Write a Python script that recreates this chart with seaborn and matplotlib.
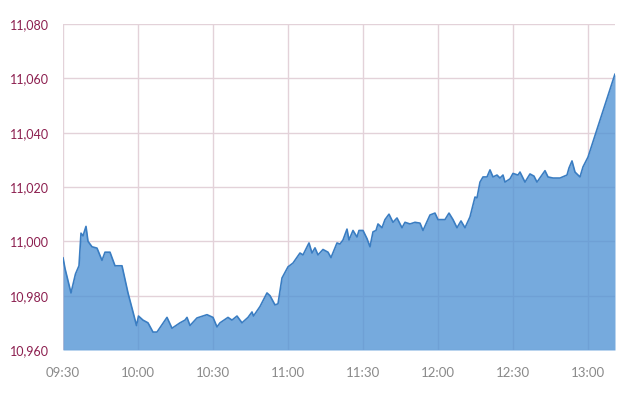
import matplotlib
matplotlib.use("Agg")
import matplotlib.pyplot as plt
import seaborn as sns
import pandas as pd

# minutes after 09:30 open
minutes = [0, 0.8, 3.2, 5.0, 6.4, 7.2, 8.0, 9.2, 10.0, 11.6, 13.6, 15.6, 16.8, 18.8,
           20.8, 23.6, 26.0, 28.0, 29.4, 30.2, 32.0, 34.0, 36.0, 37.6, 41.6, 43.6,
           46.8, 48.8, 49.6, 50.8, 53.6, 57.6, 60.0, 61.6, 62.8, 66.0, 67.6, 69.6,
           71.6, 74.0, 75.6, 76.2, 78.8, 81.6, 82.8, 84.8, 86.0, 87.6, 90.0, 92.0,
           94.8, 96.0, 98.4, 99.6, 100.8, 102.0, 104.0, 106.0, 107.2, 109.6, 110.8,
           112.0, 113.6, 114.4, 116.0, 117.6, 118.4, 120.0, 121.6, 122.8, 124.0,
           125.2, 126.0, 127.6, 128.8, 130.4, 132.0, 133.6, 135.6, 136.8, 138.8,
           140.8, 142.8, 144.0, 146.8, 148.8, 150.0, 152.8, 154.4, 156.0, 157.6,
           159.2, 160.8, 162.8, 164.8, 165.6, 166.8, 168.0, 169.6, 170.8, 172.0,
           173.6, 174.8, 176.0, 176.8, 178.8, 180.0, 182.0, 182.8, 184.8, 186.8,
           188.4, 189.6, 192.8, 194.0, 196.0, 198.8, 201.6, 202.4, 203.6, 204.8,
           206.8, 208.0, 210.0, 220.8]
index_values = [10994, 10990, 10981, 10988, 10991, 11003, 11002, 11005.5, 11000, 10998,
                10997.5, 10993, 10996, 10996, 10991, 10991, 10981, 10974, 10969,
                10972.5, 10971, 10970, 10966.6, 10966.6, 10972, 10968, 10970, 10971,
                10972, 10969, 10971.8, 10973, 10972, 10968.5, 10970, 10972, 10971,
                10972.5, 10970, 10972, 10974, 10972.5, 10976, 10981, 10980, 10976.6,
                10977, 10986.5, 10990.6, 10992, 10995.7, 10995, 10999.4, 10995.7,
                10997.6, 10995, 10997, 10996, 10994, 10999.4, 10999, 11000.5, 11004.5,
                11000.5, 11004, 11001.6, 11004, 11004, 11001, 10998, 11003.5, 11004,
                11006.4, 11005, 11008, 11010, 11007, 11008.6, 11005, 11007, 11006.4,
                11007, 11006.7, 11004, 11009.7, 11010.4, 11008, 11008, 11010.4, 11008,
                11005, 11007.5, 11005, 11009, 11016.3, 11016, 11021.8, 11023.7,
                11023.7, 11026.3, 11023.7, 11024.4, 11023.3, 11024.4, 11021.8, 11023,
                11025, 11024.4, 11025.5, 11021.8, 11024.8, 11024, 11021.8, 11026,
                11023.7, 11023.3, 11023.3, 11024.4, 11027, 11029.6, 11025.5, 11023.7,
                11027.4, 11031, 11061.6]
tick_minutes = [0, 30, 60, 90, 120, 150, 180, 210]
tick_labels = ["09:30", "10:00", "10:30", "11:00", "11:30", "12:00", "12:30", "13:00"]
y_ticks = [10960, 10980, 11000, 11020, 11040, 11060, 11080]

df = pd.DataFrame({"minute": minutes, "value": index_values})

sns.set_theme(style="white")
plt.rcParams["font.family"] = ["Lato", "DejaVu Sans"]

fig = plt.figure(figsize=(6.4, 4.0), dpi=100)
ax = fig.add_axes([63/640, 1-350/400, (615-63)/640, (350-24)/400])

ax.fill_between(df["minute"], df["value"], 10960, color="#4f92d4", alpha=0.78,
                linewidth=0, zorder=2)
sns.lineplot(data=df, x="minute", y="value", ax=ax, color="#3a7dc2", linewidth=1.2,
             zorder=3)

ax.set_xlim(0, minutes[-1])
ax.set_ylim(10960, 11080)
ax.set_xticks(tick_minutes)
ax.set_xticklabels(tick_labels)
ax.set_yticks(y_ticks)
ax.set_yticklabels([f"{v:,}" for v in y_ticks])
ax.set_xlabel("")
ax.set_ylabel("")

ax.grid(True, color="#e3d2d9", linewidth=1.0, zorder=1)
ax.set_axisbelow(True)
for s in ax.spines.values():
    s.set_visible(False)

ax.tick_params(axis="y", labelsize=9, length=0, pad=10)
ax.tick_params(axis="x", labelsize=9.5, length=0, pad=12)
for lbl in ax.get_yticklabels():
    lbl.set_color("#8c1f4f")
for lbl in ax.get_xticklabels():
    lbl.set_color("#8a8a8a")

fig.savefig("out.png", dpi=100)
